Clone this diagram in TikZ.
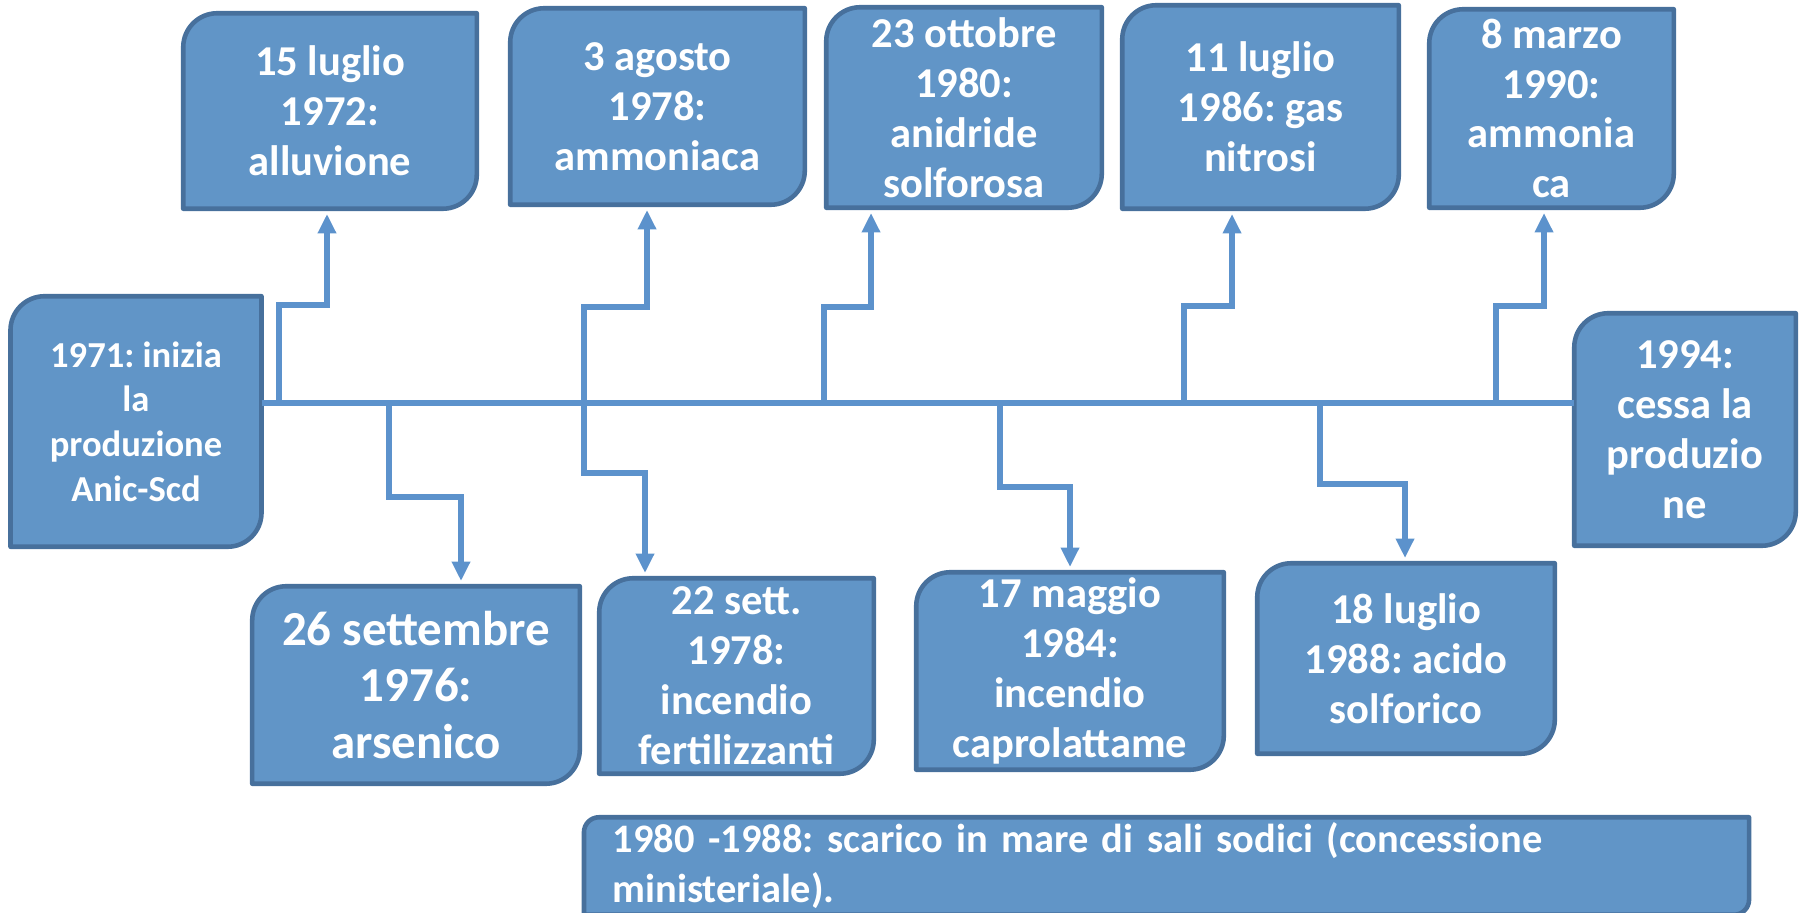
\documentclass[tikz,border=0pt]{standalone}
\usepackage{fontspec}
\setmainfont{Carlito}
\frenchspacing
\usetikzlibrary{arrows.meta,calc,backgrounds}

\definecolor{boxfill}{RGB}{97,149,199}
\definecolor{boxedge}{RGB}{71,112,156}
\definecolor{lineblue}{RGB}{92,146,204}

\tikzset{
  evbox/.style={inner sep=0pt, align=center, text=white, font=\bfseries\fontsize{12.1}{14.2}\selectfont},
  tl/.style={lineblue, line width=1.7pt},
  conn/.style={lineblue, line width=1.5pt, -{Triangle[width=5pt,length=5.5pt]}, shorten >=1.5pt},
  shapeline/.style={fill=boxfill, draw=boxedge, line width=1.3pt, line join=round}
}

\begin{document}
\begin{tikzpicture}[x=0.01cm,y=-0.01cm]
    \useasboundingbox (0,0) rectangle (1800,913);

    % Inizio e fine
    \node[evbox, minimum width=2.495cm, minimum height=2.49cm, font=\bfseries\fontsize{10.4}{12.7}\selectfont] (start) at (136,421.5) {1971: inizia\\la\\produzione\\Anic-Scd};
    \node[evbox, minimum width=2.20cm, minimum height=2.31cm] (end) at (1685,429.5) {1994:\\cessa la\\produzio\\ne};

    % Eventi sopra
    \node[evbox, minimum width=2.92cm, minimum height=1.94cm] (e72) at (330,111) {15 luglio\\1972:\\alluvione};
    \node[evbox, minimum width=2.93cm, minimum height=1.95cm] (e78a) at (657.5,106.5) {3 agosto\\1978:\\ammoniaca};
    \node[evbox, minimum width=2.74cm, minimum height=1.99cm] (e80) at (964,107.5) {23 ottobre\\1980:\\anidride\\solforosa};
    \node[evbox, minimum width=2.75cm, minimum height=2.02cm] (e86) at (1260.5,107) {11 luglio\\1986: gas\\nitrosi};
    \node[evbox, minimum width=2.43cm, minimum height=1.97cm] (e90) at (1551.5,108.5) {8 marzo\\1990:\\ammonia\\ca};

    % Eventi sotto
    \node[evbox, minimum width=3.26cm, minimum height=1.96cm, font=\bfseries\fontsize{13.9}{16.1}\selectfont] (e76) at (416,685) {26 settembre\\1976:\\arsenico};
    \node[evbox, minimum width=2.73cm, minimum height=1.94cm] (e78b) at (736.5,676) {22 sett.\\1978:\\incendio\\fertilizzanti};
    \node[evbox, minimum width=3.06cm, minimum height=1.96cm] (e84) at (1070,671) {17 maggio\\1984:\\incendio\\caprolattame};
    \node[evbox, minimum width=2.96cm, minimum height=1.89cm] (e88) at (1406,658.5) {18 luglio\\1988: acido\\solforico};

    % Nota
    \node[evbox, align=left, text width=11.07cm, minimum width=11.63cm, minimum height=0.96cm, font=\bfseries\fontsize{11.5}{14.2}\selectfont] (note) at (1166.5,866) {1980 -1988: scarico in mare di sali sodici (concessione\\ministeriale).};

    % Sagome
    \begin{pgfonlayer}{background}
    \foreach \n/\r in {start/0.34cm, end/0.34cm, e72/0.34cm, e78a/0.34cm, e80/0.34cm, e86/0.34cm, e90/0.34cm, e76/0.34cm, e78b/0.34cm, e84/0.34cm, e88/0.34cm, note/0.15cm}
        \draw[shapeline] (\n.south west) -- ([yshift=-\r]\n.north west) arc[start angle=180, end angle=90, radius=\r] -- (\n.north east) -- ([yshift=\r]\n.south east) arc[start angle=0, end angle=-90, radius=\r] -- cycle;
    \end{pgfonlayer}

    % Punti sulla linea del tempo
    \coordinate (t72) at (279,403);
    \coordinate (t76) at (389,403);
    \coordinate (t78) at (584,403);
    \coordinate (t80) at (824,403);
    \coordinate (t84) at (1000,403);
    \coordinate (t86) at (1184,403);
    \coordinate (t88) at (1320,403);
    \coordinate (t90) at (1496,403);

    % Linea del tempo
    \draw[tl] (start.east |- t72) -- (end.west |- t72);

    % Frecce
    \draw[conn] (t72) -- ++(0,-98) -| ($(e72.south)+(-3,0)$);
    \draw[conn] (t78) -- ++(0,-96) -| ($(e78a.south)+(-10.5,0)$);
    \draw[conn] (t80) -- ++(0,-96) -| ($(e80.south)+(-93,0)$);
    \draw[conn] (t86) -- ++(0,-97) -| ($(e86.south)+(-28.5,0)$);
    \draw[conn] (t90) -- ++(0,-97) -| ($(e90.south)+(-7.5,0)$);
    \draw[conn] (t76) -- ++(0,94) -| ($(e76.north)+(45,0)$);
    \draw[conn] (t78) -- ++(0,70) -| ($(e78b.north)+(-91.5,0)$);
    \draw[conn] (t84) -- ++(0,84) -| (e84.north);
    \draw[conn] (t88) -- ++(0,81) -| ($(e88.north)+(-1,0)$);

\end{tikzpicture}
\end{document}
